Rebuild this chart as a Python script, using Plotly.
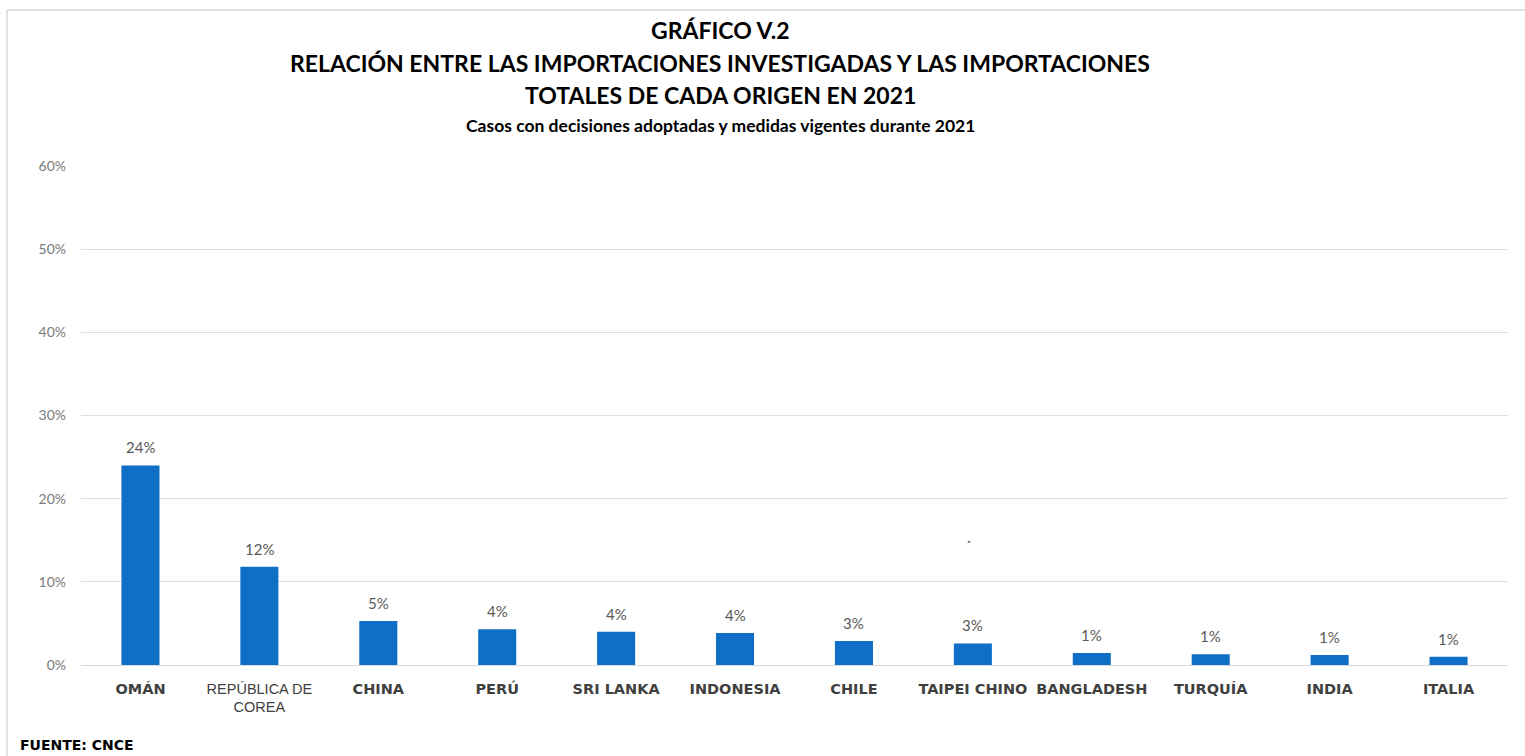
import plotly.graph_objects as go

categories = ["OMÁN", "REPÚBLICA DE<br>COREA", "CHINA", "PERÚ", "SRI LANKA", "INDONESIA",
              "CHILE", "TAIPEI CHINO", "BANGLADESH", "TURQUÍA", "INDIA", "ITALIA"]
values = [0.240, 0.118, 0.053, 0.043, 0.040, 0.0385, 0.029, 0.026, 0.0145, 0.013, 0.012, 0.010]
y_ticks = [0, 0.1, 0.2, 0.3, 0.4, 0.5, 0.6]

W, H = 1525, 756
ML, MR, MT, MB = 81, 17, 166, 91
PW, PH = W - ML - MR, H - MT - MB

def px(x):
    return (x - ML) / PW

def py(y):
    return 1 - (y - MT) / PH

fig = go.Figure()
fig.add_trace(go.Bar(
    x=categories, y=values,
    marker=dict(color="#0F6FC6", line=dict(width=0)),
    width=0.32,
))

# data labels
for c, v in zip(categories, values):
    fig.add_annotation(x=c, y=v, text=f"{v:.0%}", showarrow=False, xanchor="center",
                       yanchor="bottom", yshift=7,
                       font=dict(family="Lato, Open Sans, sans-serif", size=15, color="#595959"))

# tick labels: most bold, the two-line one regular
ticktext = []
for c in categories:
    if "<br>" in c:
        ticktext.append(c)
    else:
        ticktext.append(f'<span style="font-family:DejaVu Sans">{"<b>" + c + "</b>"}</span>')

title_font = "Lato, Open Sans, sans-serif"
annots = [
    dict(text="<b>GRÁFICO V.2</b>", x=px(720), y=py(30), size=23),
    dict(text="<b>RELACIÓN ENTRE LAS IMPORTACIONES INVESTIGADAS Y LAS IMPORTACIONES</b>", x=px(720), y=py(63), size=23),
    dict(text="<b>TOTALES DE CADA ORIGEN EN 2021</b>", x=px(720), y=py(95), size=23),
    dict(text="<b>Casos con decisiones adoptadas y medidas vigentes durante 2021</b>", x=px(720), y=py(125), size=17.5),
]
for a in annots:
    fig.add_annotation(text=a["text"], x=a["x"], y=a["y"], xref="paper", yref="paper",
                       xanchor="center", yanchor="middle", showarrow=False,
                       font=dict(family=title_font, size=a["size"], color="#000000"))

fig.add_annotation(text="<b>FUENTE: CNCE</b>", x=px(18), y=py(745), xref="paper", yref="paper",
                   xanchor="left", yanchor="middle", showarrow=False,
                   font=dict(family="DejaVu Sans, Verdana, sans-serif", size=14, color="#000000"))
fig.add_annotation(text="´", x=px(969), y=py(547), xref="paper", yref="paper",
                   xanchor="center", yanchor="middle", showarrow=False,
                   font=dict(family="Liberation Sans, Arial, sans-serif", size=14, color="#000000"))

# frame lines
fig.add_shape(type="line", xref="paper", yref="paper", x0=px(7), x1=px(1525), y0=py(10), y1=py(10),
              line=dict(color="#D9D9D9", width=1.5))
fig.add_shape(type="line", xref="paper", yref="paper", x0=px(7), x1=px(7), y0=py(10), y1=py(756),
              line=dict(color="#D9D9D9", width=1.5))

fig.update_layout(
    width=W, height=H,
    margin=dict(l=ML, r=MR, t=MT, b=MB),
    paper_bgcolor="white", plot_bgcolor="white",
    showlegend=False,
    xaxis=dict(showgrid=False, showline=False, ticks="", ticklabelstandoff=13,
               tickvals=categories, ticktext=ticktext,
               tickfont=dict(family="Liberation Sans, Arial, sans-serif", size=14.5, color="#404040")),
    yaxis=dict(range=[0, 0.6], tickvals=y_ticks, tickformat=".0%",
               showgrid=True, gridcolor="#DEDEDE", gridwidth=1,
               zeroline=True, zerolinecolor="#D9D9D9", zerolinewidth=1,
               showline=False, ticks="", ticklabelstandoff=14,
               tickfont=dict(family="Lato, Open Sans, sans-serif", size=14, color="#7A7A7A")),
)

fig.write_html("out.html", config={"displayModeBar": False},
               post_script="document.body.style.margin='0';document.body.style.overflow='hidden';")
